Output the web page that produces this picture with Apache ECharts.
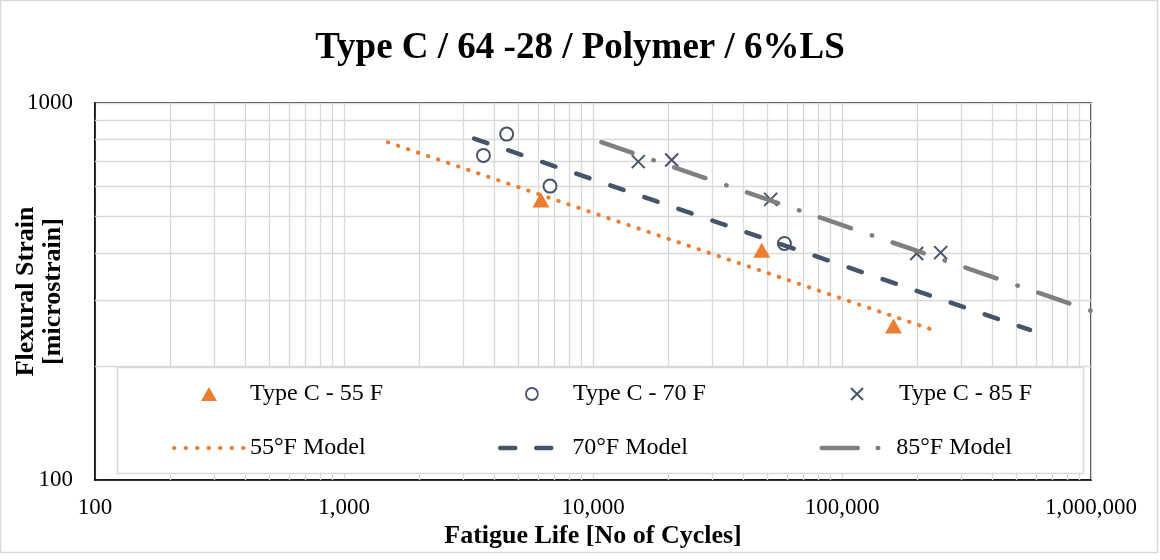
<!DOCTYPE html>
<html>
<head>
<meta charset="utf-8">
<script src="https://cdn.jsdelivr.net/npm/echarts@6/dist/echarts.min.js"></script>
<style>
  html, body { margin: 0; padding: 0; background: #fff; }
  #chart { width: 1160px; height: 560px; }
</style>
</head>
<body>
<div id="chart"></div>
<script>
// Axis tick labels (one per decade)
const xTickLabels = ['100', '1,000', '10,000', '100,000', '1,000,000'];
const yTickLabels = ['100', '1000'];

// Beam fatigue results: [cycles to failure, flexural strain (microstrain)]
const type55 = [[6180, 553], [47600, 407], [161000, 256]];
const type70 = [[3630, 726], [4500, 827], [6720, 602], [58700, 424]];
const type85 = [[15200, 699], [20700, 706], [51700, 555], [199500, 399], [249000, 401]];

// Fitted fatigue models (straight in log-log), given by their end points
const model55 = [[1500, 787], [232000, 250]];
const model70 = [[3330, 805], [569000, 250]];
const model85 = [[10800, 787], [1000000, 281]];

// Minor grid positions: 2..9 inside every decade
const xMinor = [];
for (let d = 100; d < 1e6; d *= 10) for (let k = 2; k <= 9; k++) xMinor.push(d * k);
const yMinor = [];
for (let k = 2; k <= 9; k++) yMinor.push(100 * k);

const serif = "'Liberation Serif', 'Times New Roman', serif";
const ORANGE = '#ED7D31', NAVY = '#44546A', GRAY = '#7F7F7F', GRID = '#D9D9D9';
const LEGEND_FONT = 24;

function decadeIndex(v, base) { return Math.round(Math.log10(v)) - base; }

// One legend entry; `left` is where the drawn icon starts, centerY the row's middle
function legendAt(item, left, centerY, w, h, extra) {
  return Object.assign({
    data: [item], left: left, top: centerY - Math.max(h, LEGEND_FONT) / 2, padding: 0,
    itemWidth: w, itemHeight: h, selectedMode: false, z: 4,
    textStyle: { fontFamily: serif, fontSize: LEGEND_FONT, color: '#000' }
  }, extra || {});
}

const chart = echarts.init(document.getElementById('chart'), null, { renderer: 'canvas' });

chart.setOption({
  animation: false,
  backgroundColor: '#fff',
  title: {
    text: 'Type C / 64 -28 / Polymer / 6%LS',
    left: 'center', top: 25,
    textStyle: { fontFamily: serif, fontSize: 37, fontWeight: 'bold', color: '#000' }
  },
  grid: {
    left: 95, top: 103, right: 69, bottom: 80,
    containLabel: false, outerBoundsMode: 'none',
    show: true, borderColor: '#000', borderWidth: 1.5, backgroundColor: 'transparent'
  },
  xAxis: {
    type: 'log', logBase: 10, min: 100, max: 1000000,
    name: 'Fatigue Life [No of Cycles]', nameLocation: 'middle', nameGap: 43, nameMoveOverlap: false,
    nameTextStyle: { fontFamily: serif, fontSize: 26, fontWeight: 'bold', color: '#000' },
    axisLine: { lineStyle: { color: '#000', width: 1.5 } },
    axisTick: { show: false },
    axisLabel: {
      margin: 16, fontFamily: serif, fontSize: 23, color: '#000',
      formatter: v => xTickLabels[decadeIndex(v, 2)] || ''
    },
    splitLine: { show: true, lineStyle: { color: GRID, width: 1.3 } }
  },
  yAxis: {
    type: 'log', logBase: 10, min: 100, max: 1000,
    name: 'Flexural Strain\n[microstrain]', nameLocation: 'middle', nameRotate: 90,
    nameGap: 28, nameMoveOverlap: false,
    nameTextStyle: { fontFamily: serif, fontSize: 26, fontWeight: 'bold', color: '#000', lineHeight: 27 },
    axisLine: { lineStyle: { color: '#000', width: 1.5 } },
    axisTick: { show: false },
    axisLabel: {
      margin: 22, fontFamily: serif, fontSize: 23, color: '#000',
      formatter: v => yTickLabels[decadeIndex(v, 2)] || ''
    },
    splitLine: { show: true, lineStyle: { color: GRID, width: 1.3 } }
  },
  legend: [
    legendAt({ name: 'Type C - 55 F', icon: 'path://M8,0L16,14L0,14Z' }, 201, 394, 72, 14,
      { itemStyle: { color: ORANGE, borderWidth: 0, opacity: 1 } }),
    legendAt({ name: 'Type C - 70 F', icon: 'path://M12,6A6,6,0,1,1,0,6A6,6,0,1,1,12,6Z' }, 525, 394, 72, 12,
      { itemStyle: { color: '#fff', borderColor: NAVY, borderWidth: 1.8, opacity: 1 } }),
    legendAt({ name: 'Type C - 85 F', icon: 'path://M0,0L11,11M11,0L0,11' }, 848.5, 394, 74, 12,
      { itemStyle: { color: 'none', borderColor: NAVY, borderWidth: 2, opacity: 1 } }),
    legendAt('55°F Model', 172, 448, 71, 14,
      { itemStyle: { opacity: 0 }, lineStyle: { color: ORANGE, width: 4, type: [0.5, 11], cap: 'round', opacity: 1 } }),
    legendAt('70°F Model', 498, 448, 67, 14,
      { itemStyle: { opacity: 0 }, lineStyle: { color: NAVY, width: 4.5, type: [15, 21], cap: 'round', opacity: 1 } }),
    legendAt('85°F Model', 819.5, 448, 69.5, 14,
      { itemStyle: { opacity: 0 }, lineStyle: { color: GRAY, width: 4.5, type: [36, 20, 0.5, 30], cap: 'round', opacity: 1 } })
  ],
  graphic: [
    { type: 'rect', z: 3, silent: true,
      shape: { x: 117.5, y: 367.5, width: 966, height: 106 },
      style: { fill: '#fff', stroke: GRID, lineWidth: 1.5 } },
    { type: 'rect', z: 0, silent: true,
      shape: { x: 0.5, y: 0.5, width: 1157, height: 552 },
      style: { fill: 'none', stroke: GRID, lineWidth: 1.5 } }
  ],
  series: [
    {
      // minor log grid
      name: 'minor-grid', type: 'line', data: [], z: 1, silent: true,
      markLine: {
        z: 1, silent: true, symbol: 'none', label: { show: false }, animation: false,
        lineStyle: { color: GRID, width: 1.3, type: 'solid' },
        data: xMinor.map(v => ({ xAxis: v })).concat(yMinor.map(v => ({ yAxis: v })))
      }
    },
    {
      name: 'Type C - 55 F', type: 'scatter', data: type55, z: 2,
      symbol: 'triangle', symbolSize: [17, 15],
      itemStyle: { color: ORANGE, opacity: 1 }
    },
    {
      name: 'Type C - 70 F', type: 'scatter', data: type70, z: 2,
      symbol: 'emptyCircle', symbolSize: 13,
      itemStyle: { color: NAVY, borderColor: NAVY, borderWidth: 2, opacity: 1 }
    },
    {
      name: 'Type C - 85 F', type: 'scatter', data: type85, z: 2,
      symbol: 'path://M0,0L10,10M10,0L0,10', symbolSize: 13,
      itemStyle: { color: NAVY, borderColor: NAVY, borderWidth: 2, opacity: 1 }
    },
    {
      name: '55°F Model', type: 'line', data: model55, z: 3,
      symbol: 'none', color: ORANGE,
      lineStyle: { color: ORANGE, width: 4, type: [0.5, 10.1], cap: 'round' }
    },
    {
      name: '70°F Model', type: 'line', data: model70, z: 3,
      symbol: 'none', color: NAVY,
      lineStyle: { color: NAVY, width: 4.5, type: [14, 22], cap: 'round' }
    },
    {
      name: '85°F Model', type: 'line', data: model85, z: 3,
      symbol: 'none', color: GRAY,
      lineStyle: { color: GRAY, width: 4.5, type: [33, 22, 0.5, 21.5], cap: 'round' }
    }
  ]
});
</script>
</body>
</html>
